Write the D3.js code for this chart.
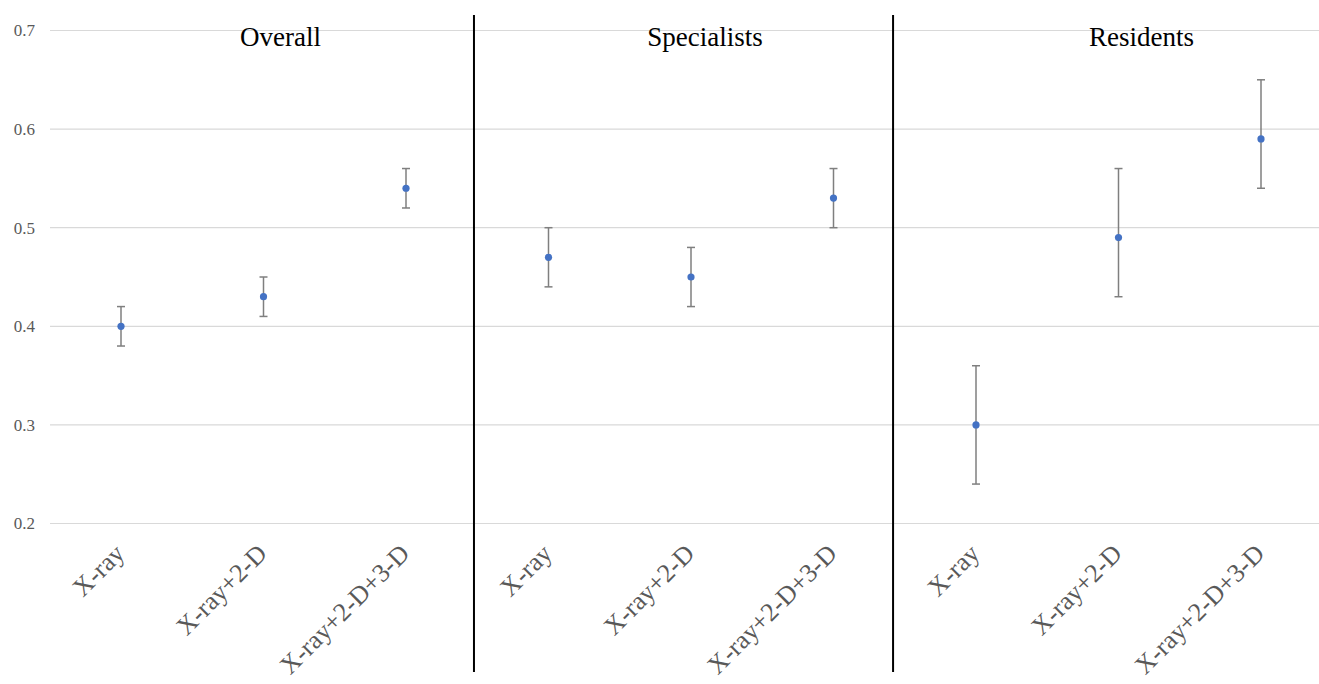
<!DOCTYPE html>
<html>
<head>
<meta charset="utf-8">
<script src="https://cdn.jsdelivr.net/npm/d3@7"></script>
<style>
  body { margin: 0; background: #fff; }
  svg { display: block; }
</style>
</head>
<body>
<svg width="1319" height="684"></svg>
<script>
// Chart data
let groups = ['Overall', 'Specialists', 'Residents'];
let methods = ['X-ray', 'X-ray+2-D', 'X-ray+2-D+3-D'];
let means = [0.40, 0.43, 0.54, 0.47, 0.45, 0.53, 0.30, 0.49, 0.59];
let lower = [0.38, 0.41, 0.52, 0.44, 0.42, 0.50, 0.24, 0.43, 0.54];
let upper = [0.42, 0.45, 0.56, 0.50, 0.48, 0.56, 0.36, 0.56, 0.65];
let yTicks = [0.2, 0.3, 0.4, 0.5, 0.6, 0.7];
// separator positions, in category index units
let separators = [2.477, 5.418];
// small nudges for the panel titles (px)
let titleShift = [17, 14, 23];

let svg = d3.select('svg');
let width = +svg.attr('width');
let height = +svg.attr('height');

// x: category index -> pixel
let x = d3.scaleLinear().domain([0, 8]).range([121, 1261]);
let y = d3.scaleLinear().domain([0.2, 0.7]).range([523.5, 30.5]);

let serif = 'Liberation Serif, Times New Roman, serif';

// Gridlines
svg.append('g')
  .selectAll('line')
  .data(yTicks)
  .enter().append('line')
    .attr('x1', 50)
    .attr('x2', width)
    .attr('y1', d => y(d))
    .attr('y2', d => y(d))
    .attr('stroke', '#d9d9d9')
    .attr('stroke-width', 1.2);

// Y axis labels
svg.append('g')
  .selectAll('text')
  .data(yTicks)
  .enter().append('text')
    .attr('x', 35)
    .attr('y', d => y(d))
    .attr('dy', '0.35em')
    .attr('text-anchor', 'end')
    .attr('font-family', serif)
    .attr('font-size', 17)
    .attr('fill', '#595959')
    .text(d => d.toFixed(1));

// Panel separators
svg.append('g')
  .selectAll('line')
  .data(separators)
  .enter().append('line')
    .attr('x1', d => x(d))
    .attr('x2', d => x(d))
    .attr('y1', 15)
    .attr('y2', 672)
    .attr('stroke', '#000')
    .attr('stroke-width', 2);

// Panel titles
svg.append('g')
  .selectAll('text')
  .data(groups)
  .enter().append('text')
    .attr('x', (d, i) => x(i * 3 + 1) + titleShift[i])
    .attr('y', 46)
    .attr('text-anchor', 'middle')
    .attr('font-family', serif)
    .attr('font-size', 27)
    .attr('fill', '#000')
    .text(d => d);

// Category labels
let cats = d3.range(9);
svg.append('g')
  .selectAll('text')
  .data(cats)
  .enter().append('text')
    .attr('transform', d => 'translate(' + (x(d) + 5) + ',' + 555 + ') rotate(-45)')
    .attr('text-anchor', 'end')
    .attr('font-family', serif)
    .attr('font-size', 26)
    .attr('fill', '#595959')
    .text(d => methods[d % 3]);

// Error bars
let bars = svg.append('g')
  .attr('stroke', '#7f7f7f')
  .attr('stroke-width', 1.5);

bars.selectAll('line.stem')
  .data(cats)
  .enter().append('line')
    .attr('class', 'stem')
    .attr('x1', d => x(d))
    .attr('x2', d => x(d))
    .attr('y1', d => y(lower[d]))
    .attr('y2', d => y(upper[d]));

bars.selectAll('line.capTop')
  .data(cats)
  .enter().append('line')
    .attr('class', 'capTop')
    .attr('x1', d => x(d) - 4)
    .attr('x2', d => x(d) + 4)
    .attr('y1', d => y(upper[d]))
    .attr('y2', d => y(upper[d]));

bars.selectAll('line.capBottom')
  .data(cats)
  .enter().append('line')
    .attr('class', 'capBottom')
    .attr('x1', d => x(d) - 4)
    .attr('x2', d => x(d) + 4)
    .attr('y1', d => y(lower[d]))
    .attr('y2', d => y(lower[d]));

// Points
svg.append('g')
  .selectAll('circle')
  .data(cats)
  .enter().append('circle')
    .attr('cx', d => x(d))
    .attr('cy', d => y(means[d]))
    .attr('r', 3.6)
    .attr('fill', '#4472c4');
</script>
</body>
</html>
